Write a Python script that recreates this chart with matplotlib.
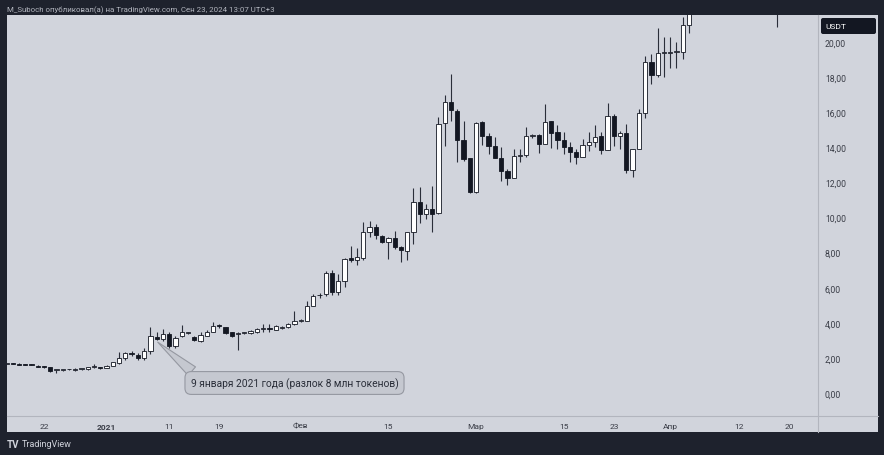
import numpy as np
import pandas as pd
import matplotlib
matplotlib.use('Agg')
import matplotlib.pyplot as plt
import matplotlib.dates as mdates
from matplotlib.patches import FancyBboxPatch, Rectangle
from matplotlib.lines import Line2D
from matplotlib.transforms import IdentityTransform

plt.rcParams['font.family'] = ['Roboto', 'DejaVu Sans']

# daily candles from 2020-12-16 (nan = above the visible range)
start = '2020-12-16'
nan = np.nan
opens = [1.68, 1.69, 1.68, 1.63, 1.62, 1.56, 1.49, 1.46, 1.30, 1.31, 1.34, 1.33, 1.36, 1.34, 1.51, 1.46,
         1.43, 1.56, 1.73, 2.00, 2.30, 2.15, 2.00, 2.40, 3.20, 3.08, 3.36, 2.66, 3.23, 3.40, 3.17, 2.98,
         3.27, 3.46, 3.87, 3.74, 3.46, 3.35, 3.41, 3.40, 3.46, 3.66, 3.67, 3.60, 3.73, 3.74, 3.93, 4.11,
         4.12, 4.97, 5.56, 5.64, 6.84, 5.74, 6.40, 7.67, 7.60, 7.67, 9.19, 9.44, 8.96, 8.58, 8.81, 8.30,
         8.11, 9.19, 10.90, 10.20, 10.50, 10.25, 15.38, 16.60, 16.09, 14.43, 13.37, 11.47, 15.42, 14.62,
         14.09, 13.41, 12.67, 12.23, 13.50, 13.56, 14.64, 14.70, 14.19, 15.50, 14.85, 14.43, 14.03, 13.71,
         13.43, 14.13, 14.32, 14.66, 13.86, 15.76, 14.66, 14.79, 12.72, 13.90, 15.95, 18.88, 18.12, 19.39,
         19.40, 19.44, 19.45, 20.97,
         nan, nan, nan, nan, nan, nan, nan, nan, nan, nan, nan, nan, nan, 22.60]
highs = [1.71, 1.72, 1.69, 1.66, 1.64, 1.58, 1.52, 1.50, 1.31, 1.33, 1.37, 1.42, 1.39, 1.50, 1.64, 1.49,
         1.58, 1.78, 2.32, 2.32, 2.38, 2.28, 2.55, 3.74, 3.47, 3.65, 3.45, 3.25, 3.87, 3.50, 3.27, 3.46,
         3.60, 4.02, 3.95, 3.78, 3.50, 3.46, 3.50, 3.60, 3.70, 3.93, 3.93, 3.85, 3.83, 3.98, 4.69, 4.20,
         5.25, 5.66, 5.70, 6.95, 7.00, 6.78, 7.67, 8.39, 8.25, 9.72, 9.82, 9.65, 9.00, 8.90, 9.25, 8.35,
         9.20, 11.70, 11.72, 10.75, 11.80, 15.70, 16.98, 18.18, 16.20, 15.50, 13.40, 15.46, 15.50, 14.80,
         14.60, 14.00, 12.75, 13.90, 13.90, 15.14, 14.75, 14.75, 16.47, 15.50, 15.30, 14.85, 14.28, 13.90,
         14.47, 14.85, 15.25, 14.85, 16.52, 15.90, 14.95, 15.33, 13.90, 16.18, 19.22, 19.30, 20.78, 20.27,
         20.27, 19.98, 21.40, 22.50,
         nan, nan, nan, nan, nan, nan, nan, nan, nan, nan, nan, nan, nan, 23.00]
lows = [1.66, 1.66, 1.60, 1.60, 1.58, 1.47, 1.45, 1.20, 1.12, 1.28, 1.31, 1.27, 1.33, 1.32, 1.43, 1.38,
        1.40, 1.54, 1.68, 1.86, 2.10, 1.90, 1.90, 2.22, 3.00, 2.98, 2.55, 2.55, 3.20, 3.35, 2.98, 2.88,
        3.23, 3.46, 3.72, 3.36, 3.20, 2.47, 3.36, 3.36, 3.42, 3.46, 3.46, 3.58, 3.65, 3.70, 3.90, 4.05,
        4.10, 4.95, 5.40, 5.55, 5.60, 5.60, 6.05, 7.45, 7.30, 7.60, 8.87, 8.75, 8.55, 7.64, 8.20, 7.48,
        7.60, 8.49, 9.70, 9.90, 9.17, 10.20, 14.05, 15.50, 13.14, 13.20, 11.40, 11.40, 14.15, 13.62,
        13.37, 12.10, 11.85, 12.23, 13.14, 13.45, 14.55, 13.68, 14.19, 13.95, 13.90, 13.62, 13.14, 13.05,
        13.43, 13.80, 14.00, 13.62, 13.86, 14.05, 13.90, 12.54, 12.29, 13.90, 15.65, 17.60, 18.00, 17.98,
        18.50, 18.50, 19.03, 20.50,
        nan, nan, nan, nan, nan, nan, nan, nan, nan, nan, nan, nan, nan, 20.85]
closes = [1.69, 1.68, 1.62, 1.62, 1.60, 1.49, 1.47, 1.24, 1.30, 1.32, 1.35, 1.34, 1.37, 1.46, 1.53, 1.40,
          1.56, 1.75, 2.00, 2.30, 2.20, 2.00, 2.40, 3.23, 3.05, 3.36, 2.70, 3.12, 3.46, 3.43, 3.04, 3.30,
          3.46, 3.83, 3.80, 3.40, 3.23, 3.40, 3.43, 3.55, 3.65, 3.68, 3.66, 3.80, 3.75, 3.93, 4.12, 4.13,
          4.95, 5.54, 5.60, 6.84, 5.74, 6.40, 7.62, 7.60, 7.74, 9.19, 9.44, 9.00, 8.62, 8.81, 8.30, 8.15,
          9.16, 10.86, 10.20, 10.50, 10.20, 15.33, 16.60, 16.14, 14.43, 13.33, 11.47, 15.38, 14.62, 14.09,
          13.41, 12.67, 12.23, 13.49, 13.54, 14.62, 14.68, 14.19, 15.46, 14.81, 14.43, 14.03, 13.71, 13.46,
          14.13, 14.28, 14.60, 13.86, 15.76, 14.66, 14.79, 12.72, 13.90, 15.95, 18.88, 18.12, 19.37, 19.43,
          19.42, 19.47, 20.97, 22.20,
          nan, nan, nan, nan, nan, nan, nan, nan, nan, nan, nan, nan, nan, 22.40]

tick_dates = ['2020-12-22', '2021-01-01', '2021-01-11', '2021-01-19', '2021-02-01', '2021-02-15',
              '2021-03-01', '2021-03-15', '2021-03-23', '2021-04-01', '2021-04-12', '2021-04-20']
tick_labels = ['22', '2021', '11', '19', 'Фев', '15', 'Мар', '15', '23', 'Апр', '12', '20']
price_ticks = [0, 2, 4, 6, 8, 10, 12, 14, 16, 18, 20]

note_date = '2021-01-09'
note_text = '9 января 2021 года (разлок 8 млн токенов)'
header = 'M_Suboch опубликовал(а) на TradingView.com, Сен 23, 2024 13:07 UTC+3'

W, H = 884, 456
BG = '#1e222d'
PANEL = '#d1d4dc'
INK = '#131722'


def fx(px):
    return px / W


def fy(py):
    return 1 - py / H


fig = plt.figure(figsize=(W / 100, H / 100), dpi=100)
fig.patch.set_facecolor(BG)

fig.patches.append(Rectangle((fx(7), fy(433)), fx(878) - fx(7), fy(16) - fy(433),
                             transform=fig.transFigure, facecolor=PANEL, edgecolor='none', zorder=-10))

ax = fig.add_axes([fx(7), fy(417), fx(818) - fx(7), fy(16) - fy(417)])
ax.set_facecolor(PANEL)
ax.set_zorder(1)
for s in ax.spines.values():
    s.set_visible(False)

o = np.array(opens)
h = np.array(highs)
l = np.array(lows)
c = np.array(closes)
x = mdates.date2num(pd.date_range(start, periods=len(o), freq='D'))
valid = ~np.isnan(o)
up = valid & (c >= o)
dn = valid & (c < o)

ax.vlines(x[valid], l[valid], h[valid], color='#2a2e39', lw=0.8, zorder=2)
bottom = np.minimum(o, c)
height = np.maximum(np.abs(c - o), 0.05)
ax.bar(x[up], height[up], bottom=bottom[up], width=0.68, color='white',
       edgecolor=INK, linewidth=0.6, zorder=3)
ax.bar(x[dn], height[dn], bottom=bottom[dn], width=0.68, color=INK,
       edgecolor=INK, linewidth=0.6, zorder=3)

jan1 = mdates.date2num(pd.Timestamp('2021-01-01'))
ax.set_xlim(jan1 - 15.9, jan1 + 113.6)
ax.set_ylim(-1.31, 21.54)

ax.set_xticks(mdates.date2num(pd.to_datetime(tick_dates)))
ax.set_xticklabels(tick_labels)
ax.get_xticklabels()[1].set_fontweight('bold')
ax.tick_params(axis='x', length=0, pad=5, labelsize=6, labelcolor='#3a3d47')

ax.yaxis.tick_right()
ax.set_yticks(price_ticks)
ax.set_yticklabels([f'{v:.2f}'.replace('.', ',') for v in price_ticks])
ax.tick_params(axis='y', length=0, pad=5, labelsize=6.2, labelcolor='#3a3d47')

# callout
nd = mdates.date2num(pd.Timestamp(note_date))
ax.annotate(note_text, xy=(nd, 2.95), xycoords='data',
            xytext=(294.5, H - 384), textcoords='figure pixels',
            ha='center', va='center', fontsize=7.4, color='#2a2e39',
            bbox=dict(boxstyle='round,pad=0.55,rounding_size=0.6', fc='#c5c8d0', ec='#9598a1', lw=0.8),
            arrowprops=dict(arrowstyle='wedge,tail_width=1.1,shrink_factor=0.5', fc='#c5c8d0',
                            ec='#9598a1', lw=0.8, relpos=(0.04, 1.0), shrinkA=0, shrinkB=1),
            annotation_clip=False, zorder=5)

# separators of the price / time scales
fig.add_artist(Line2D([fx(818), fx(818)], [fy(16), fy(433)], transform=fig.transFigure,
                      color='#b2b5be', lw=0.8, zorder=2))
fig.add_artist(Line2D([fx(7), fx(878)], [fy(417), fy(417)], transform=fig.transFigure,
                      color='#b2b5be', lw=0.8, zorder=2))

# currency badge
fig.add_artist(FancyBboxPatch((821, H - 35), 55, 16, boxstyle='round,pad=0,rounding_size=2',
                              transform=IdentityTransform(), fc=INK, ec='none', zorder=3))
fig.text(fx(825), fy(27), 'USDT', color='white', fontsize=6, va='center', zorder=4)

fig.text(fx(7), fy(10), header, color='#b2b5be', fontsize=5.7, va='center')
fig.text(fx(7), fy(445), 'TV', color=PANEL, fontsize=7, fontweight='bold', va='center')
fig.text(fx(22), fy(445), 'TradingView', color=PANEL, fontsize=6.5, va='center')

fig.savefig('out.png', dpi=100, facecolor=fig.get_facecolor())
